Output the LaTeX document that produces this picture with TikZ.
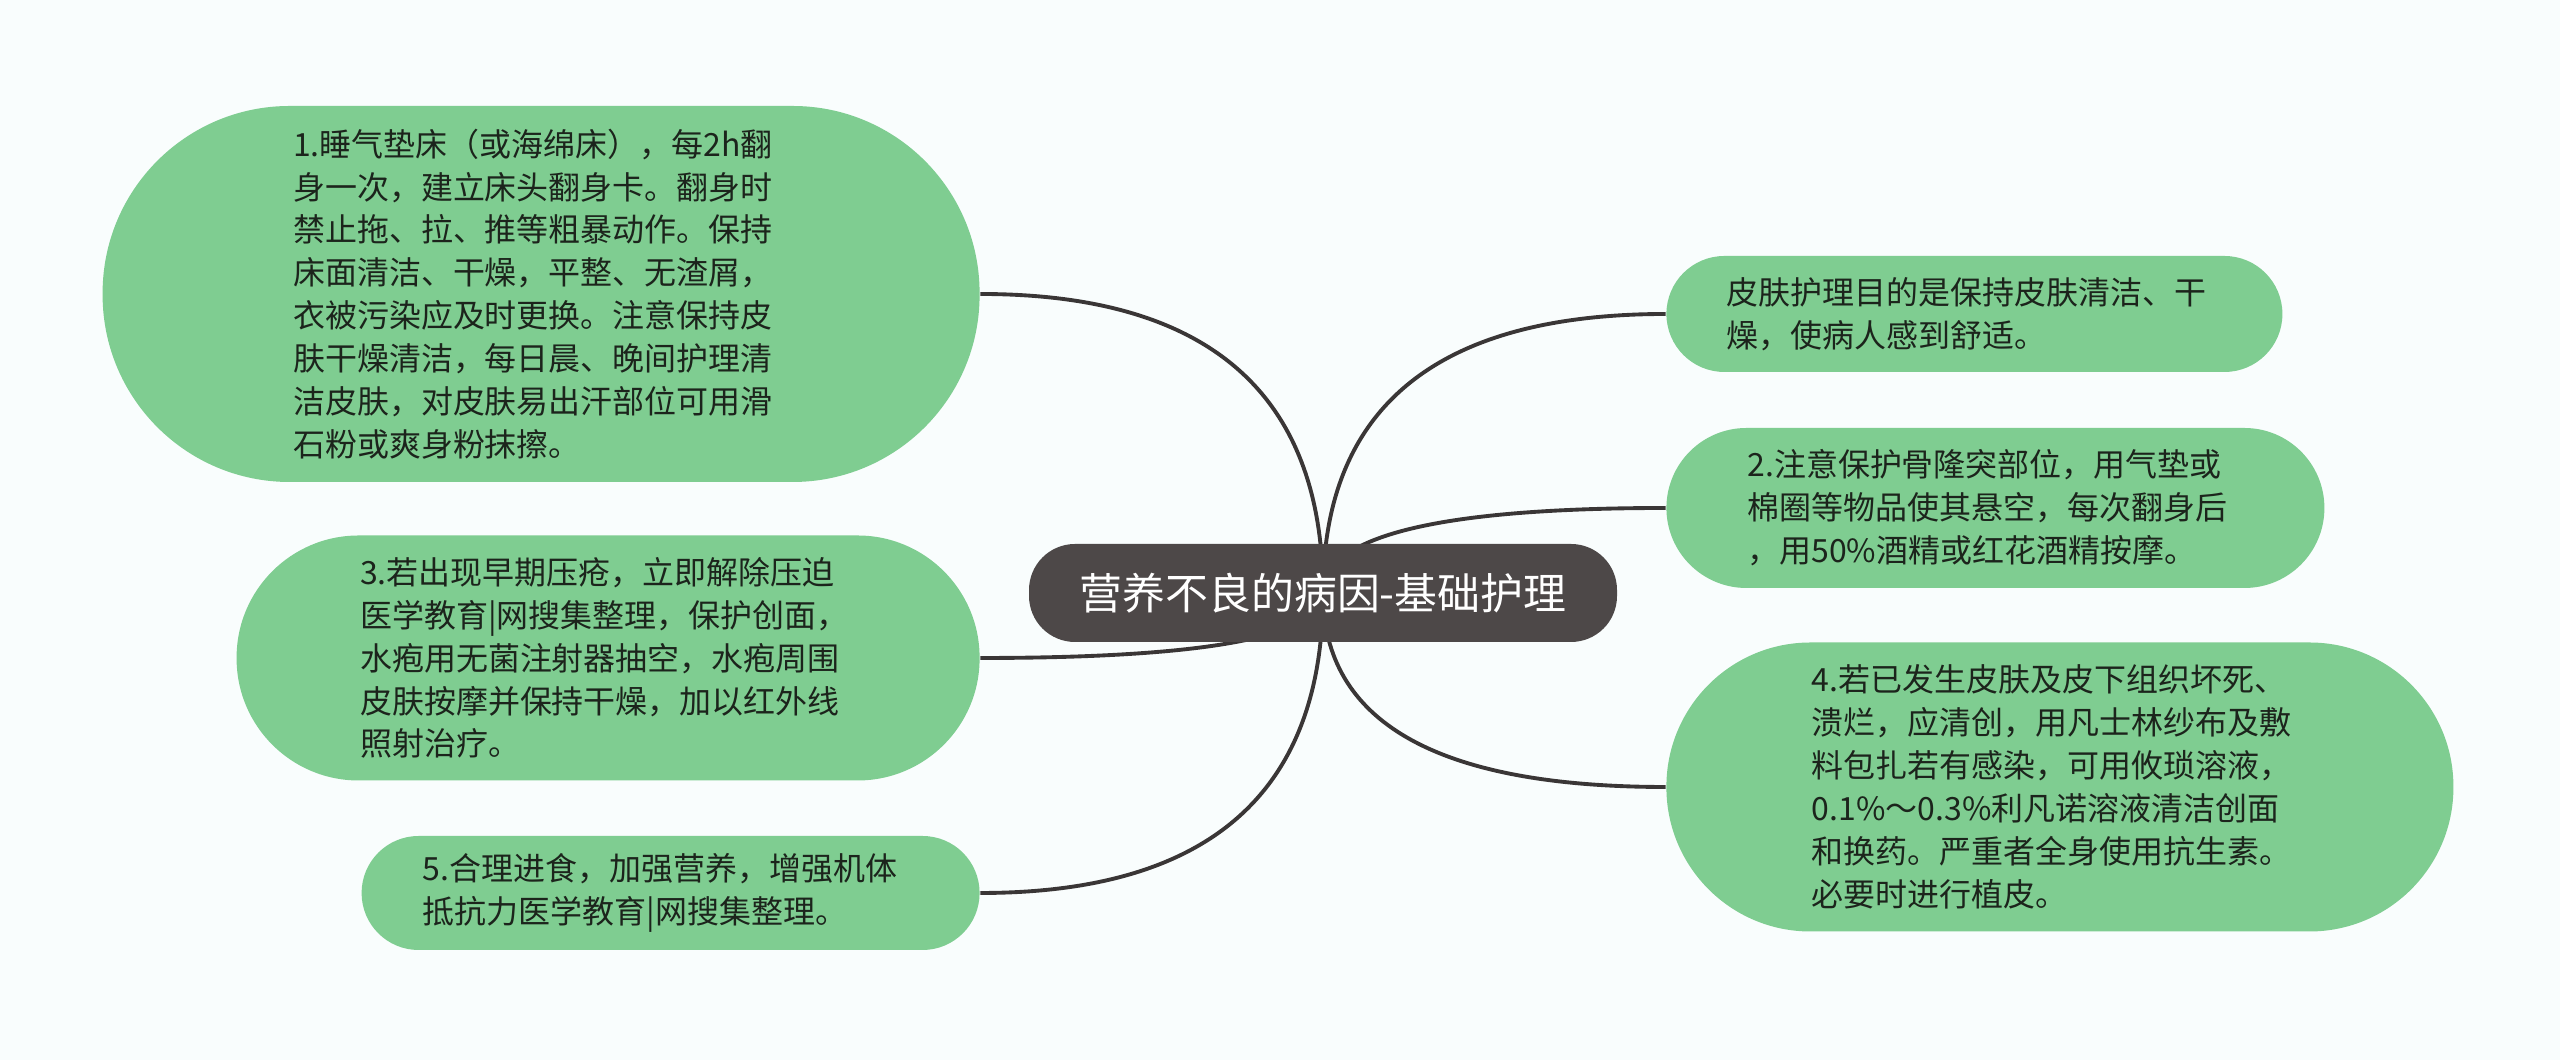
\documentclass[tikz,border=0pt]{standalone}
\usepackage{fontspec}
\newfontfamily\cjk{Noto Sans CJK SC}
\usetikzlibrary{positioning,calc}
\definecolor{bgcol}{RGB}{249,253,253}
\definecolor{leafgreen}{RGB}{127,205,145}
\definecolor{rootgrey}{RGB}{77,72,72}
\definecolor{linegrey}{RGB}{58,54,54}
\definecolor{leaftext}{RGB}{28,36,28}
\pgfdeclarelayer{bg}
\pgfsetlayers{bg,main}
\tikzset{
  root node/.style={
    fill=rootgrey,
    text=white,
    font=\cjk\fontsize{12.2}{14}\selectfont,
    minimum width=58.8mm,
    minimum height=9.8mm,
    rounded corners=4.6mm,
    inner sep=0pt
  },
  leaf/.style={
    fill=leafgreen,
    text=leaftext,
    font=\cjk\fontsize{9.1}{12.2}\selectfont,
    align=left,
    text width=49.6mm,
    inner sep=0pt
  },
  link/.style={
    draw=linegrey,
    line width=1.1pt,
    to path={.. controls ($(\tikztostart)!2/3!(\tikztostart |- \tikztotarget)$)
               and ($(\tikztotarget)!2/3!(\tikztostart |- \tikztotarget)$) .. (\tikztotarget)}
  }
}

\begin{document}
\begin{tikzpicture}
\useasboundingbox (0,0) rectangle (25.6,10.6);
\node[root node] (root) at (13.23,4.67) {营养不良的病因-基础护理};
% left side
\node[leaf,left=4.8mm of root.west,yshift=29.9mm,
      minimum width=87.7mm,minimum height=37.6mm,rounded corners=18.7mm] (n1)
  {1.睡气垫床（或海绵床），每2h翻\\
   身一次，建立床头翻身卡。翻身时\\
   禁止拖、拉、推等粗暴动作。保持\\
   床面清洁、干燥，平整、无渣屑，\\
   衣被污染应及时更换。注意保持皮\\
   肤干燥清洁，每日晨、晚间护理清\\
   洁皮肤，对皮肤易出汗部位可用滑\\
   石粉或爽身粉抹擦。};
\node[leaf,left=4.8mm of root.west,yshift=-6.5mm,
      minimum width=74.3mm,minimum height=24.5mm,rounded corners=12.2mm] (n3)
  {3.若出现早期压疮，立即解除压迫\\
   医学教育|网搜集整理，保护创面，\\
   水疱用无菌注射器抽空，水疱周围\\
   皮肤按摩并保持干燥，加以红外线\\
   照射治疗。};
\node[leaf,left=4.8mm of root.west,yshift=-30mm,
      minimum width=61.8mm,minimum height=11.4mm,rounded corners=5.7mm] (n5)
  {5.合理进食，加强营养，增强机体\\
   抵抗力医学教育|网搜集整理。};
% right side
\node[leaf,right=4.8mm of root.east,yshift=27.9mm,
      minimum width=61.6mm,minimum height=11.6mm,rounded corners=5.8mm] (aim)
  {皮肤护理目的是保持皮肤清洁、干\\
   燥，使病人感到舒适。};
\node[leaf,right=4.8mm of root.east,yshift=8.5mm,
      minimum width=65.8mm,minimum height=16mm,rounded corners=8mm] (n2)
  {2.注意保护骨隆突部位，用气垫或\\
   棉圈等物品使其悬空，每次翻身后\\
   ，用50\%酒精或红花酒精按摩。};
\node[leaf,right=4.8mm of root.east,yshift=-19.4mm,
      minimum width=78.7mm,minimum height=28.9mm,rounded corners=14.4mm] (n4)
  {4.若已发生皮肤及皮下组织坏死、\\
   溃烂，应清创，用凡士林纱布及敷\\
   料包扎若有感染，可用攸琐溶液，\\
   0.1\%～0.3\%利凡诺溶液清洁创面\\
   和换药。严重者全身使用抗生素。\\
   必要时进行植皮。};
\begin{pgfonlayer}{bg}
  \fill[bgcol] (0,0) rectangle (25.6,10.6);
  \path (root.center) edge[link] (n1.east)
        (root.center) edge[link] (n3.east)
        (root.center) edge[link] (n5.east)
        (root.center) edge[link] (aim.west)
        (root.center) edge[link] (n2.west)
        (root.center) edge[link] (n4.west);
\end{pgfonlayer}
\end{tikzpicture}
\end{document}
